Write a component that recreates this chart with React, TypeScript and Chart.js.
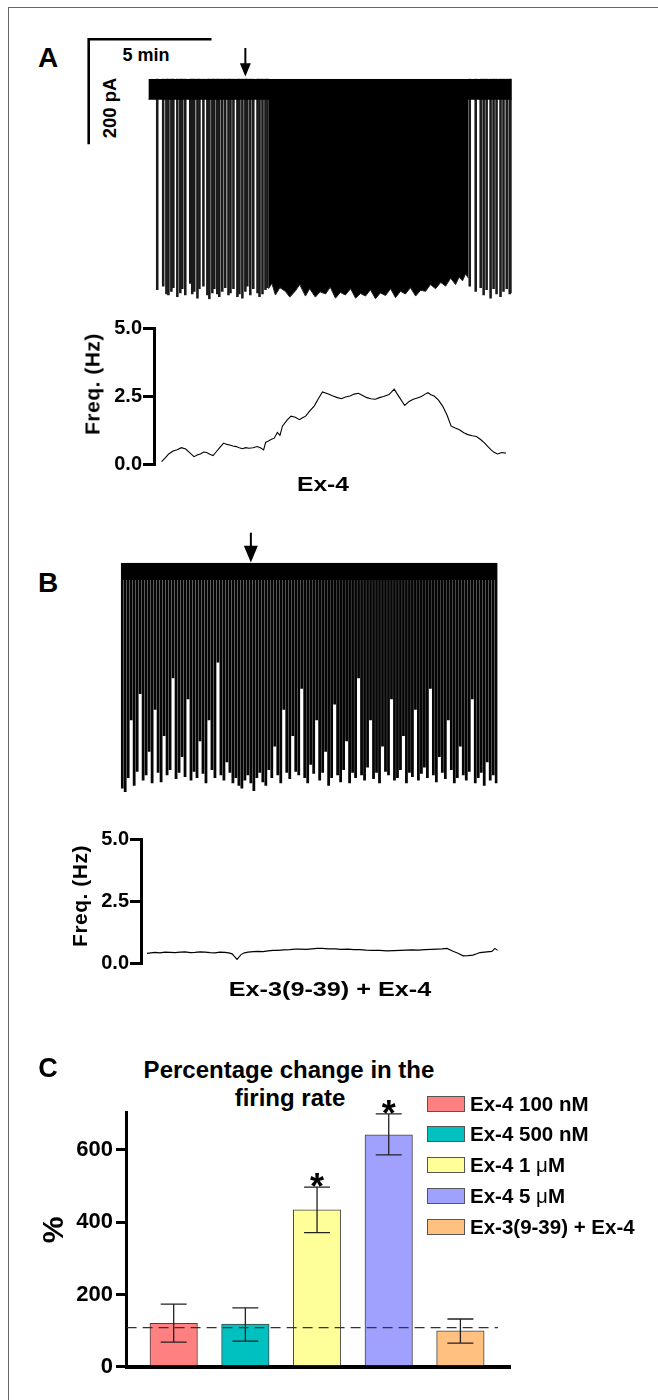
import React, { useEffect, useRef } from "react";
import { Chart, registerables } from "chart.js";

Chart.register(...registerables);

const FONT = '"Liberation Sans", Arial, Helvetica, sans-serif';
Chart.defaults.font.family = FONT;
Chart.defaults.color = "#000";

// ---------- Panel A : current trace (minutes, pA) ----------
const traceA_durationMin = 14.64;
const traceA_noiseBandPA = -39;
const traceA_spikeTimesMin = [
  0.36, 0.6, 0.73, 0.81, 0.93, 1.01, 1.17, 1.29, 1.37, 1.49, 1.69, 1.77, 1.85, 1.98, 2.06, 2.22, 2.38, 2.46, 2.58,
  2.66, 2.78, 2.86, 2.98, 3.1, 3.23, 3.31, 3.43, 3.59, 3.67, 3.79, 3.91, 3.99, 4.11, 4.23, 4.4, 4.48, 4.6, 4.72, 4.8,
  12.95, 13.19, 13.39, 13.51, 13.63, 13.79, 13.91, 14.03, 14.19, 14.31, 14.44, 14.56, 14.63,
];
const traceA_spikeAmpPA = [
  -402, -395, -410, -412, -405, -398, -415, -408, -400, -412, -390, -410, -405, -418, -400, -395, -412, -420, -408,
  -400, -410, -415, -405, -398, -412, -408, -400, -415, -410, -418, -405, -395, -412, -400, -408, -415, -410, -402,
  -398, -395, -405, -398, -412, -402, -418, -400, -410, -415, -405, -400, -410, -408,
];
// lower (ragged) envelope of the continuous burst of spikes
const traceA_burstTimesMin = [
  4.84, 4.98, 5.12, 5.3, 5.52, 5.7, 5.93, 6.1, 6.33, 6.5, 6.73, 6.92, 7.14, 7.33, 7.54, 7.74, 7.94, 8.15, 8.35, 8.55,
  8.75, 8.95, 9.15, 9.35, 9.56, 9.76, 9.96, 10.16, 10.36, 10.56, 10.77, 10.97, 11.17, 11.37, 11.57, 11.78, 11.98,
  12.18, 12.38, 12.52, 12.66, 12.78, 12.9,
];
const traceA_burstAmpPA = [
  -400, -390, -412, -398, -405, -416, -404, -392, -414, -400, -416, -406, -410, -397, -418, -407, -412, -400, -418,
  -409, -414, -402, -419, -408, -413, -400, -417, -405, -410, -398, -414, -403, -405, -392, -400, -388, -395, -380,
  -392, -378, -385, -372, -380,
];
const arrowA_min = 3.91;
const scaleBar_min = 5;
const scaleBar_pA = 200;

// ---------- Panel A : frequency ----------
const freqA_t = [
  0, 0.15, 0.31, 0.5, 0.68, 0.86, 1.05, 1.22, 1.41, 1.55, 1.69, 1.83, 1.96, 2.1, 2.24, 2.38, 2.51, 2.7, 2.84, 2.97,
  3.1, 3.25, 3.38, 3.52, 3.66, 3.8, 3.98, 4.16, 4.3, 4.44, 4.53, 4.62, 4.76, 4.9, 5.04, 5.15, 5.26, 5.45, 5.63, 5.82,
  6.0, 6.13, 6.27, 6.45, 6.64, 6.82, 7.0, 7.23, 7.46, 7.65, 7.83, 8.0, 8.2, 8.38, 8.56, 8.75, 8.93, 9.1, 9.3, 9.48,
  9.66, 9.9, 10.12, 10.35, 10.58, 10.77, 10.95, 11.13, 11.31, 11.45, 11.59, 11.72, 11.86, 12.05, 12.23, 12.42, 12.6,
  12.78, 12.96, 13.15, 13.33, 13.52, 13.7, 13.88, 14.06, 14.2, 14.34, 14.47, 14.61, 14.8, 14.98,
];
const freqA_hz = [
  0.09, 0.22, 0.37, 0.48, 0.52, 0.6, 0.55, 0.42, 0.27, 0.33, 0.37, 0.44, 0.42, 0.36, 0.31, 0.45, 0.58, 0.77, 0.72,
  0.7, 0.66, 0.64, 0.6, 0.56, 0.6, 0.58, 0.6, 0.64, 0.6, 0.52, 0.8, 0.83, 0.9, 0.95, 1.16, 1.05, 1.39, 1.6, 1.76,
  1.72, 1.63, 1.7, 1.76, 1.95, 2.13, 2.4, 2.65, 2.58, 2.5, 2.44, 2.4, 2.46, 2.5, 2.57, 2.6, 2.52, 2.44, 2.4, 2.38,
  2.44, 2.48, 2.55, 2.75, 2.45, 2.15, 2.3, 2.38, 2.43, 2.48, 2.56, 2.62, 2.55, 2.5, 2.35, 2.13, 1.8, 1.39, 1.32,
  1.26, 1.15, 1.08, 1.04, 1.01, 0.9, 0.77, 0.64, 0.52, 0.43, 0.37, 0.42, 0.4,
];

// ---------- Panel B : current trace (per time bin, pA) ----------
const traceB_noiseBandPA = -30;
const traceB_pA = [
  -430, -437, -410, -300, -425, -398, -250, -415, -405, -360, -420, -280, -400, -418, -330, -405, -395, -220, -412, -400,
  -370, -408, -260, -415, -398, -410, -340, -402, -420, -300, -395, -410, -190, -405, -415, -380, -400, -420, -410, -425,
  -430, -415, -405, -420, -435, -410, -400, -418, -425, -395, -410, -350, -405, -420, -280, -400, -412, -330, -398, -405,
  -240, -410, -420, -385, -402, -300, -415, -400, -360, -425, -410, -270, -405, -418, -395, -340, -420, -400, -410, -220,
  -405, -415, -390, -300, -412, -400, -420, -350, -398, -405, -260, -415, -410, -395, -330, -420, -400, -408, -280, -415,
  -402, -390, -410, -240, -405, -418, -370, -400, -412, -300, -395, -420, -410, -350, -405, -415, -398, -260, -420, -410,
  -400, -425, -380, -415, -405, -420,
];
const arrowB_bin = 43;

// ---------- Panel B : frequency ----------
const freqB_t = [
  0, 0.34, 0.55, 0.77, 1.0, 1.2, 1.42, 1.63, 1.85, 2.05, 2.27, 2.48, 2.7, 2.91, 3.12, 3.34, 3.5, 3.64, 3.85, 4.02,
  4.17, 4.32, 4.55, 4.75, 4.96, 5.18, 5.4, 5.6, 5.85, 6.11, 6.33, 6.54, 6.8, 7.06, 7.28, 7.49, 7.75, 8.04, 8.3, 8.6,
  8.85, 9.11, 9.36, 9.62, 9.95, 10.26, 10.55, 10.82, 11.08, 11.33, 11.6, 11.89, 12.15, 12.4, 12.62, 12.83, 13.09,
  13.3, 13.52, 13.73, 13.94, 14.1, 14.24, 14.54, 14.75, 14.88, 15.0,
];
const freqB_hz = [
  0.4, 0.44, 0.42, 0.45, 0.44, 0.43, 0.45, 0.46, 0.43, 0.44, 0.46, 0.45, 0.43, 0.42, 0.45, 0.44, 0.42, 0.38, 0.16,
  0.35, 0.42, 0.45, 0.47, 0.48, 0.47, 0.5, 0.52, 0.52, 0.54, 0.55, 0.57, 0.57, 0.56, 0.58, 0.6, 0.6, 0.58, 0.58,
  0.56, 0.57, 0.55, 0.55, 0.53, 0.52, 0.52, 0.5, 0.51, 0.52, 0.53, 0.54, 0.53, 0.55, 0.56, 0.57, 0.58, 0.6, 0.48,
  0.4, 0.3, 0.31, 0.33, 0.38, 0.43, 0.46, 0.48, 0.6, 0.52,
];
const freqTicks = [0, 2.5, 5];

// ---------- Panel C : bars ----------
const groups = ["Ex-4 100 nM", "Ex-4 500 nM", "Ex-4 1 μM", "Ex-4 5 μM", "Ex-3(9-39) + Ex-4"];
const groupColors = ["#FF8080", "#00C0C0", "#FFFF99", "#A0A0FF", "#FFC080"];
const meanPct = [120, 118, 434, 642, 99];
const errHighPct = [173, 163, 497, 700, 132];
const errLowPct = [68, 71, 371, 586, 65];
const significant = [false, false, true, true, false];
const controlLevelPct = 108;
const pctTicks = [0, 200, 400, 600];

// ---------- plugins ----------
const arrowPlugin = {
  id: "arrow",
  afterDraw(chart: any, _a: any, opts: any) {
    const { ctx, chartArea } = chart;
    const x = chart.scales.x.getPixelForValue(opts.value);
    const top = chartArea.top;
    ctx.save();
    ctx.strokeStyle = "#000";
    ctx.fillStyle = "#000";
    ctx.lineWidth = 2;
    ctx.beginPath();
    ctx.moveTo(x, top - opts.len);
    ctx.lineTo(x, top - opts.head);
    ctx.stroke();
    ctx.beginPath();
    ctx.moveTo(x - opts.w / 2, top - opts.head - 1);
    ctx.lineTo(x + opts.w / 2, top - opts.head - 1);
    ctx.lineTo(x, top - opts.tip);
    ctx.closePath();
    ctx.fill();
    ctx.restore();
  },
};

const scaleBarPlugin = {
  id: "scaleBar",
  afterDraw(chart: any) {
    const { ctx, chartArea, scales } = chart;
    const w = scales.x.getPixelForValue(scaleBar_min) - scales.x.getPixelForValue(0);
    const h = scales.y.getPixelForValue(-scaleBar_pA) - scales.y.getPixelForValue(0);
    const ox = chartArea.left - 59.6;
    const oy = chartArea.top - 39.4;
    ctx.save();
    ctx.strokeStyle = "#000";
    ctx.lineWidth = 2.6;
    ctx.beginPath();
    ctx.moveTo(ox - 1.3, oy);
    ctx.lineTo(ox - 1.3 + w, oy);
    ctx.moveTo(ox, oy - 1.3);
    ctx.lineTo(ox, oy + h);
    ctx.stroke();
    ctx.restore();
  },
};

const errorBarPlugin = {
  id: "errorBars",
  afterDatasetsDraw(chart: any) {
    const { ctx, scales } = chart;
    ctx.save();
    ctx.strokeStyle = "#222";
    ctx.fillStyle = "#000";
    ctx.lineWidth = 1.3;
    meanPct.forEach((_, i) => {
      const x = scales.x.getPixelForValue(i);
      const yh = scales.y.getPixelForValue(errHighPct[i]);
      const yl = scales.y.getPixelForValue(errLowPct[i]);
      ctx.beginPath();
      ctx.moveTo(x, yh);
      ctx.lineTo(x, yl);
      ctx.moveTo(x - 13, yh);
      ctx.lineTo(x + 13, yh);
      ctx.moveTo(x - 13, yl);
      ctx.lineTo(x + 13, yl);
      ctx.stroke();
      if (significant[i]) {
        ctx.font = `bold 36px ${FONT}`;
        ctx.textAlign = "center";
        ctx.textBaseline = "alphabetic";
        ctx.fillText("*", x, yh + 12);
      }
    });
    ctx.restore();
  },
};

// ---------- configs ----------
const noTip = { legend: { display: false }, tooltip: { enabled: false } };

function traceAConfig(): any {
  return {
    type: "bar",
    data: {
      datasets: [
        {
          type: "line",
          data: [
            { x: 0, y: traceA_noiseBandPA },
            { x: traceA_durationMin, y: traceA_noiseBandPA },
          ],
          borderColor: "#000",
          borderWidth: 1,
          backgroundColor: "#000",
          fill: "end",
          pointRadius: 0,
        },
        {
          type: "line",
          data: traceA_burstTimesMin.map((t, i) => ({ x: t, y: traceA_burstAmpPA[i] })),
          borderColor: "#222",
          borderWidth: 1,
          backgroundColor: "#000",
          fill: "end",
          pointRadius: 0,
          tension: 0,
        },
        {
          type: "bar",
          data: traceA_spikeTimesMin.map((t, i) => ({ x: t, y: traceA_spikeAmpPA[i] })),
          backgroundColor: "#1a1a1a",
          barThickness: 1.9,
          grouped: false,
        },
      ],
    },
    options: {
      animation: false,
      responsive: false,
      layout: { padding: { left: 88.3, right: 18.3, top: 58.7, bottom: 10.8 } },
      plugins: { ...noTip, arrow: { value: arrowA_min, len: 30.7, head: 14.5, tip: 2.2, w: 11 } },
      scales: {
        x: { type: "linear", display: false, min: 0, max: traceA_durationMin, offset: false },
        y: { display: false, min: -420, max: 0 },
      },
    },
    plugins: [arrowPlugin, scaleBarPlugin],
  };
}

function traceBConfig(): any {
  const labels = traceB_pA.map((_, i) => i);
  return {
    type: "bar",
    data: {
      labels,
      datasets: [
        {
          type: "line",
          data: [
            { x: 0, y: traceB_noiseBandPA },
            { x: traceB_pA.length - 1, y: traceB_noiseBandPA },
          ],
          borderColor: "#000",
          borderWidth: 3,
          backgroundColor: "#000",
          fill: "end",
          pointRadius: 0,
        },
        {
          type: "bar",
          data: traceB_pA,
          backgroundColor: "#050505",
          barPercentage: 0.93,
          categoryPercentage: 1,
        },
      ],
    },
    options: {
      animation: false,
      responsive: false,
      layout: { padding: { left: 20.7, right: 22.3, top: 42.7, bottom: 13.7 } },
      plugins: { ...noTip, arrow: { value: arrowB_bin, len: 30, head: 16, tip: 0.3, w: 14 } },
      scales: {
        x: { type: "category", display: false },
        y: { display: false, min: -445, max: 0 },
      },
    },
    plugins: [arrowPlugin],
  };
}

function freqConfig(t: number[], hz: number[], xmin: number, axisW: number, pad: any): any {
  return {
    type: "line",
    data: {
      datasets: [
        {
          data: t.map((v, i) => ({ x: v, y: hz[i] })),
          borderColor: "#000",
          borderWidth: 1.1,
          pointRadius: 0,
          tension: 0,
        },
      ],
    },
    options: {
      animation: false,
      responsive: false,
      layout: { padding: pad },
      plugins: noTip,
      scales: {
        x: { type: "linear", display: false, min: xmin, max: 15 },
        y: {
          min: 0,
          max: 5,
          afterFit: (s: any) => {
            s.width = axisW;
          },
          afterBuildTicks: (s: any) => {
            s.ticks = freqTicks.map((v) => ({ value: v }));
          },
          ticks: {
            callback: (v: any) => Number(v).toFixed(1),
            font: { family: FONT, size: 20, weight: "bold" },
            color: "#000",
            padding: 1,
          },
          grid: { display: true, drawOnChartArea: false, drawTicks: true, tickLength: 11, lineWidth: 3, color: "#000" },
          border: { display: true, width: 3, color: "#000" },
        },
      },
    },
  };
}

function barConfig(): any {
  const xmin = -0.657;
  return {
    type: "bar",
    data: {
      datasets: [
        ...groups.map((g, i) => ({
          type: "bar",
          label: g,
          data: [{ x: i, y: meanPct[i] }],
          backgroundColor: groupColors[i],
          borderColor: "#444",
          borderWidth: 1,
          barThickness: 47.5,
          grouped: false,
          order: 2,
        })),
        {
          type: "line",
          label: "control",
          data: [
            { x: xmin, y: controlLevelPct },
            { x: 4.524, y: controlLevelPct },
          ],
          borderColor: "#333",
          borderWidth: 1.2,
          borderDash: [10, 6],
          pointRadius: 0,
          order: 0,
        },
      ],
    },
    options: {
      animation: false,
      responsive: false,
      layout: { padding: { left: 0, right: 9.5, top: 22.7, bottom: 23.3 } },
      plugins: noTip,
      scales: {
        x: {
          type: "linear",
          min: xmin,
          max: 4.699,
          offset: false,
          afterFit: (s: any) => {
            s.height = 0;
          },
          ticks: { display: false },
          grid: { display: false, drawTicks: false },
          border: { display: true, width: 4, color: "#000" },
        },
        y: {
          min: 0,
          max: 703,
          afterFit: (s: any) => {
            s.width = 106.6;
          },
          afterBuildTicks: (s: any) => {
            s.ticks = pctTicks.map((v) => ({ value: v }));
          },
          ticks: { font: { family: FONT, size: 22, weight: "bold" }, color: "#000", padding: 3 },
          grid: { display: true, drawOnChartArea: false, drawTicks: true, tickLength: 10.6, lineWidth: 3, color: "#000" },
          border: { display: true, width: 3, color: "#000" },
        },
      },
    },
    plugins: [errorBarPlugin],
  };
}

// ---------- components ----------
function ChartCanvas({ make, left, top, width, height }: any) {
  const ref = useRef<HTMLCanvasElement>(null);
  useEffect(() => {
    const chart = new Chart(ref.current as HTMLCanvasElement, make());
    return () => chart.destroy();
  }, []);
  return (
    <canvas
      ref={ref}
      width={width}
      height={height}
      style={{ position: "absolute", left, top, width, height }}
    />
  );
}

function T({ x, y, size, children, rot = 0, sx = 1, ls = 0 }: any) {
  return (
    <div
      style={{
        position: "absolute",
        left: x,
        top: y,
        transform: `translate(-50%,-50%) rotate(${rot}deg) scaleX(${sx})`,
        fontFamily: FONT,
        fontWeight: 700,
        fontSize: size,
        lineHeight: 1,
        whiteSpace: "nowrap",
        letterSpacing: ls,
        color: "#000",
      }}
    >
      {children}
    </div>
  );
}

function LegendLabel({ text }: { text: string }) {
  const parts = text.split("μ");
  if (parts.length === 1) return <>{text}</>;
  return (
    <>
      {parts[0]}
      <span style={{ fontWeight: 400 }}>μ</span>
      {parts[1]}
    </>
  );
}

const legendRows = [1104, 1134, 1165, 1196, 1227];

export default function App() {
  return (
    <div style={{ position: "absolute", left: 0, top: 0, width: 658, height: 1400, background: "#fff", overflow: "hidden" }}>
      <div
        style={{
          position: "absolute",
          left: 8,
          top: 7,
          width: 660,
          height: 1400,
          border: "1px solid #666",
          boxSizing: "border-box",
        }}
      />
      {/* Panel A */}
      <T x={48} y={58} size={28}>A</T>
      <T x={146} y={55} size={18}>5 min</T>
      <T x={110} y={108} size={18.5} rot={-90}>200 pA</T>
      <ChartCanvas make={traceAConfig} left={60} top={20} width={470} height={290} />
      <ChartCanvas
        make={() => freqConfig(freqA_t, freqA_hz, -0.33, 94, { left: 0, right: 13.7, top: 18, bottom: 16 })}
        left={60}
        top={310}
        width={460}
        height={170}
      />
      <T x={92} y={384} size={21} rot={-90} ls={0.5}>Freq. (Hz)</T>
      <T x={323} y={483} size={21} sx={1.17}>Ex-4</T>

      {/* Panel B */}
      <T x={48} y={583} size={28}>B</T>
      <ChartCanvas make={traceBConfig} left={100} top={520} width={420} height={290} />
      <ChartCanvas
        make={() => freqConfig(freqB_t, freqB_hz, -0.257, 91, { left: 0, right: 12.3, top: 19, bottom: 16.7 })}
        left={50}
        top={820}
        width={460}
        height={980 - 820}
      />
      <T x={79} y={896} size={21} rot={-90} ls={0.5}>Freq. (Hz)</T>
      <T x={330} y={988} size={21} sx={1.2}>Ex-3(9-39) + Ex-4</T>

      {/* Panel C */}
      <T x={48} y={1068} size={27}>C</T>
      <T x={289} y={1070} size={24}>Percentage change in the</T>
      <T x={290} y={1098} size={24}>firing rate</T>
      <T x={53} y={1230} size={30} rot={-90}>%</T>
      <ChartCanvas make={barConfig} left={20} top={1090} width={500} height={300} />
      {groups.map((g, i) => (
        <React.Fragment key={g}>
          <div
            style={{
              position: "absolute",
              left: 427,
              top: legendRows[i] - 8,
              width: 38,
              height: 16,
              background: groupColors[i],
              border: "1.5px solid #555",
              boxSizing: "border-box",
            }}
          />
          <div
            style={{
              position: "absolute",
              left: 470,
              top: legendRows[i],
              transform: "translateY(-50%)",
              fontFamily: FONT,
              fontWeight: 700,
              fontSize: 20.5,
              lineHeight: 1,
              whiteSpace: "nowrap",
              color: "#000",
            }}
          >
            <LegendLabel text={g} />
          </div>
        </React.Fragment>
      ))}
    </div>
  );
}
